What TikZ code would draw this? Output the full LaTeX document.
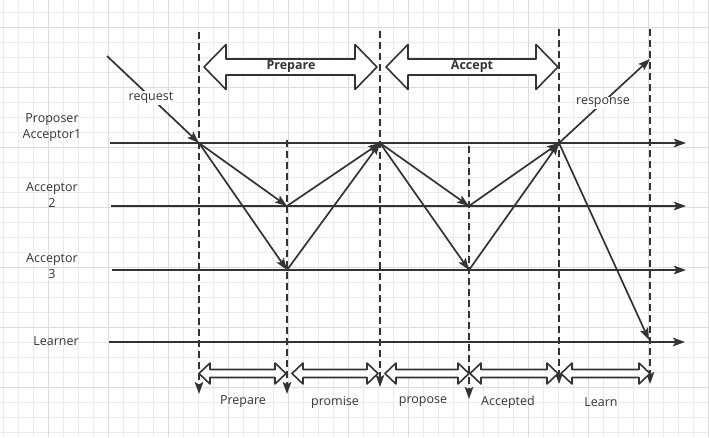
\documentclass[tikz,border=0pt]{standalone}
\usepackage{fontspec}
\setmainfont{Open Sans}
\usetikzlibrary{arrows.meta}
\definecolor{ink}{HTML}{333333}
\definecolor{gridminor}{HTML}{EBEBEB}
\definecolor{gridmajor}{HTML}{DCDCDC}
% block double arrow: x1, x2, y centre, half height, half shaft, head length
\newcommand{\blockarrow}[6]{%
	\draw[block] (#1,#3) -- ({#1+#6},{#3-#4}) -- ({#1+#6},{#3-#5}) -- ({#2-#6},{#3-#5}) -- ({#2-#6},{#3-#4}) -- (#2,#3)
	-- ({#2-#6},{#3+#4}) -- ({#2-#6},{#3+#5}) -- ({#1+#6},{#3+#5}) -- ({#1+#6},{#3+#4}) -- cycle;}
\begin{document}
\begin{tikzpicture}[x=1pt, y=-1pt, font=\fontsize{12.5}{14}\selectfont, line join=round, >={Stealth[length=12pt,width=8.5pt,inset=2.5pt]},
	lifeline/.style={ink, line width=2pt, ->},
	msg/.style={ink, line width=1.7pt, ->},
	phase/.style={ink, line width=2pt, dash pattern=on 7pt off 4pt, ->},
	block/.style={ink, line width=1.6pt, fill=white},
	lbl/.style={text=ink, align=center, inner sep=1pt},
	msglbl/.style={text=ink, fill=white, inner sep=1.5pt}]
	\useasboundingbox (0,0) rectangle (709,437);
	\fill[white] (0,0) rectangle (709,437);
	% grid
	\foreach \i in {0,...,47} \draw[gridminor, line width=1pt] ({3.3+15*\i},0) -- ({3.3+15*\i},437);
	\foreach \j in {0,...,28} \draw[gridminor, line width=1pt] (0,{12.3+15*\j}) -- (709,{12.3+15*\j});
	\foreach \i in {0,...,11} \draw[gridmajor, line width=1pt] ({48.3+60*\i},0) -- ({48.3+60*\i},437);
	\foreach \j in {0,...,6} \draw[gridmajor, line width=1pt] (0,{27.3+60*\j}) -- (709,{27.3+60*\j});
	% lifelines
	\coordinate (S1) at (110,143);
	\coordinate (E1) at (686,143);
	\coordinate (S2) at (111,206);
	\coordinate (E2) at (686,206);
	\coordinate (S3) at (112,270);
	\coordinate (E3) at (686,270);
	\coordinate (S4) at (109,342);
	\coordinate (E4) at (685,342);
	\draw[lifeline] (S1)--(E1);
	\draw[lifeline] (S2)--(E2);
	\draw[lifeline] (S3)--(E3);
	\draw[lifeline] (S4)--(E4);
	% message points
	\coordinate (R) at (107,56);
	\coordinate (P1) at (199,143);
	\coordinate (B1) at (287,206);
	\coordinate (C1) at (287,270);
	\coordinate (P2) at (380,143);
	\coordinate (B2) at (469,206);
	\coordinate (C2) at (469,270);
	\coordinate (P3) at (559,143);
	\coordinate (L) at (649,340);
	\coordinate (T) at (650,59);
	% phase boundaries
	\coordinate (D1) at (199,32);
	\coordinate (F1) at (199,394);
	\coordinate (D2) at (287,140);
	\coordinate (F2) at (287,394);
	\coordinate (D3) at (380,31);
	\coordinate (F3) at (380,387);
	\coordinate (D4) at (469,146);
	\coordinate (F4) at (469,399);
	\coordinate (D5) at (559,29);
	\coordinate (F5) at (559,384);
	\coordinate (D6) at (650,29);
	\coordinate (F6) at (650,384);
	\foreach \k in {1,...,6} \draw[phase] (D\k)--(F\k);
	% messages
	\draw[msg] (R)--(P1);
	\draw[msg] (P1)--(B1);
	\draw[msg] (P1)--(C1);
	\draw[msg] (B1)--(P2);
	\draw[msg] (C1)--(P2);
	\draw[msg] (P2)--(B2);
	\draw[msg] (P2)--(C2);
	\draw[msg] (B2)--(P3);
	\draw[msg] (C2)--(P3);
	\draw[msg] (P3)--(T);
	\draw[msg] (P3)--(L);
	\node[msglbl] (request) at (151,98) {request};
	\node[msglbl] (response) at (603,103) {response};
	% top phases
	\blockarrow{204}{377}{67}{22.5}{8}{22}
	\blockarrow{386}{558}{67}{22.5}{8}{22}
	\node[lbl, font=\fontsize{12.5}{14}\selectfont\bfseries] (prepare) at (291,67) {Prepare};
	\node[lbl, font=\fontsize{12.5}{14}\selectfont\bfseries] (accept) at (472,67) {Accept};
	% bottom phases
	\blockarrow{199}{286}{373.5}{10.5}{4}{11}
	\blockarrow{292}{378}{373.5}{10.5}{4}{11}
	\blockarrow{385}{469}{373.5}{10.5}{4}{11}
	\blockarrow{470}{558}{373.5}{10.5}{4}{11}
	\blockarrow{561}{650}{373.5}{10.5}{4}{11}
	\node[lbl] (n1) at (243,402) {Prepare};
	\node[lbl] (n2) at (335,402) {promise};
	\node[lbl] (n3) at (423,402) {propose};
	\node[lbl] (n4) at (508,402) {Accepted};
	\node[lbl] (n5) at (601,402) {Learn};
	% roles
	\node[lbl, font=\fontsize{12.5}{16}\selectfont] (proposer) at (52,128) {Proposer\\Acceptor1};
	\node[lbl, font=\fontsize{12.5}{16}\selectfont] (acc2) at (52,195) {Acceptor\\2};
	\node[lbl, font=\fontsize{12.5}{16}\selectfont] (acc3) at (52,266) {Acceptor\\3};
	\node[lbl] (learner) at (56,341) {Learner};
\end{tikzpicture}
\end{document}
